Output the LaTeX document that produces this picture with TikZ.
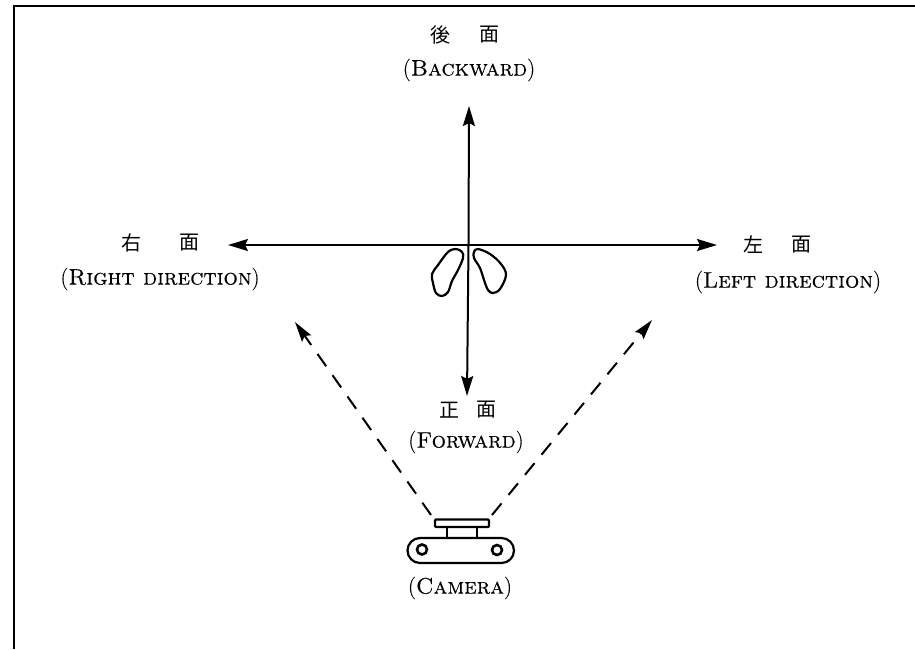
\documentclass[tikz,border=0pt]{standalone}
\usepackage{fontspec}
\usetikzlibrary{arrows.meta}
\newfontfamily\cjk{Noto Sans CJK JP}
\newfontfamily\lbl{Latin Modern Roman}[FakeBold=0.25,SmallCapsFont={Latin Modern Roman Caps},SmallCapsFeatures={FakeBold=0.25}]
\tikzset{
  x=1pt,y=-1pt,
  lab/.style={inner sep=0pt,align=center,font=\lbl\fontsize{22.5}{24}\selectfont},
  cjklab/.style={inner sep=0pt,font=\cjk\fontsize{20}{22}\selectfont},
  oneway/.style={line width=2pt,-{Stealth[length=20pt,width=12pt,inset=3pt]}},
  sight/.style={line width=2pt,dash pattern=on 15pt off 11pt,-{Stealth[length=20pt,width=11pt,inset=3pt]}},
  outline/.style={line width=2.2pt},
}
\begin{document}
\begin{tikzpicture}
\useasboundingbox (0,0) rectangle (915,649);
\fill[white] (0,0) rectangle (915,649);
\coordinate (tl) at (14,6);
\coordinate (tr) at (915,6);
\coordinate (bl) at (14,649);
\draw[line width=1.8pt] (bl) -- (tl) -- (tr);
% labels
\node[cjklab] (bk) at (440,35) {後};
\node[cjklab] (bk2) at (489,35) {面};
\node[lab] (bke) at (469,70) {(\textsc{Backward})};
\node[cjklab] (rt) at (131,243) {右};
\node[cjklab] (rt2) at (189,243) {面};
\node[lab] (rte) at (160,279) {(\textsc{Right direction})};
\node[cjklab] (lf) at (753,245) {左};
\node[cjklab] (lf2) at (801,245) {面};
\node[lab] (lfe) at (788,282) {(\textsc{Left direction})};
\node[cjklab] (fw) at (449,410) {正};
\node[cjklab] (fw2) at (486,410) {面};
\node[lab] (fwe) at (466,442) {(\textsc{Forward})};
\node[lab] (cm) at (460,588) {(\textsc{Camera})};
% axes
\coordinate (ctr) at (468.5,245);
\coordinate (atop) at (469,106);
\coordinate (abot) at (467,396);
\coordinate (aleft) at (228,245);
\coordinate (aright) at (717,245);
\draw[oneway] (ctr) -- (atop);
\draw[oneway] (ctr) -- (abot);
\draw[oneway] (ctr) -- (aleft);
\draw[oneway] (ctr) -- (aright);
% feet
\draw[outline] plot[smooth cycle,tension=0.6] coordinates {(456,249) (462,252) (463,258) (458,270) (452,281) (448,292) (442,296) (436,293) (433,283) (432,274) (438,265) (448,252)};
\draw[outline] plot[smooth cycle,tension=0.6] coordinates {(478,249) (474,252) (474,258) (480,268) (484,280) (488,290) (493,293) (500,289) (506,275) (501,264) (490,254)};
% camera
\draw[outline,rounded corners=1pt] (435,519.5) rectangle (489,527);
\coordinate (p1) at (447,527); \coordinate (p2) at (447,538);
\coordinate (p3) at (477,527); \coordinate (p4) at (477,538);
\draw[outline] (p1) -- (p2) (p3) -- (p4);
\draw[outline,rounded corners=12.5pt] (407.5,538) rectangle (514,563);
\draw[line width=2.6pt] (422,549.5) circle (5);
\draw[line width=2.6pt] (497,550) circle (5);
% sight lines
\coordinate (sl) at (431,515);
\coordinate (sr) at (492,515);
\coordinate (sle) at (295,322);
\coordinate (sre) at (652,320);
\draw[sight] (sl) -- (sle);
\draw[sight] (sr) -- (sre);
\end{tikzpicture}
\end{document}
